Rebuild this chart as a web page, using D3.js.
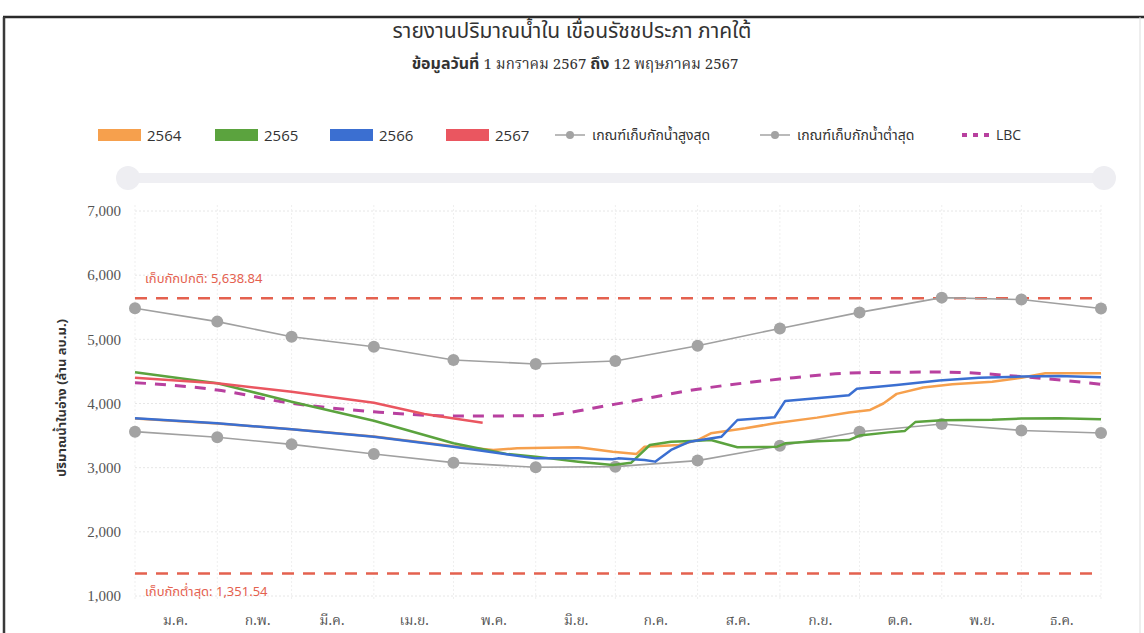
<!DOCTYPE html>
<html>
<head>
<meta charset="utf-8">
<script src="https://cdn.jsdelivr.net/npm/d3@7"></script>
<style>
  body { margin: 0; background: #fff; }
  svg { display: block; }
  .thai { font-family: "Noto Sans Thai", "Noto Sans Thai Looped", "Noto Sans", sans-serif; }
  .thai-serif { font-family: "Noto Serif Thai", "Norasi", "Kinnari", "Laksaman", "Noto Sans Thai Looped", serif; }
</style>
</head>
<body>
<script>
// month labels along the bottom (buddhist calendar abbreviations)
var monthLabels = ["ม.ค.", "ก.พ.", "มี.ค.", "เม.ย.", "พ.ค.", "มิ.ย.", "ก.ค.", "ส.ค.", "ก.ย.", "ต.ค.", "พ.ย.", "ธ.ค."];
var yTicks = [1000, 2000, 3000, 4000, 5000, 6000, 7000];

// rule curves, read at the 1st of every month (+ 31 Dec)
var ruleDates = ["01-01", "02-01", "03-01", "04-01", "05-01", "06-01", "07-01", "08-01", "09-01", "10-01", "11-01", "12-01", "12-31"];
var ruleMax = [5484, 5276, 5041, 4884, 4678, 4616, 4662, 4900, 5170, 5420, 5650, 5620, 5480];
var ruleMin = [3561, 3473, 3363, 3214, 3078, 3006, 3016, 3110, 3340, 3560, 3680, 3580, 3540];
var lbcVals = [4325, 4210, 4003, 3872, 3805, 3810, 3990, 4222, 4380, 4480, 4490, 4420, 4300];

// storage per year (ล้าน ลบ.ม.)
var dates2564 = ["01-01", "02-01", "03-01", "04-01", "05-01", "05-16", "05-25", "06-17", "06-30", "07-09", "07-12", "07-25", "08-01", "08-06", "08-19", "08-30", "09-15", "09-27", "10-05", "10-10", "10-15", "10-25", "11-05", "11-20", "12-01", "12-10", "12-31"];
var vals2564 = [3765, 3690, 3600, 3485, 3335, 3276, 3302, 3317, 3249, 3214, 3327, 3353, 3431, 3535, 3613, 3691, 3780, 3860, 3900, 4000, 4150, 4250, 4300, 4340, 4400, 4470, 4470];

var dates2565 = ["01-01", "02-01", "03-01", "04-01", "05-01", "05-21", "06-01", "06-17", "06-30", "07-07", "07-14", "07-22", "08-01", "08-06", "08-16", "08-31", "09-03", "09-15", "09-27", "10-01", "10-12", "10-18", "10-22", "11-01", "11-20", "12-01", "12-15", "12-31"];
var vals2565 = [4486, 4315, 4028, 3731, 3380, 3214, 3172, 3094, 3042, 3078, 3353, 3405, 3420, 3431, 3317, 3327, 3380, 3410, 3430, 3500, 3550, 3570, 3710, 3740, 3745, 3765, 3770, 3755];

var dates2566 = ["01-01", "02-01", "03-01", "04-01", "05-01", "06-01", "06-17", "06-30", "07-02", "07-12", "07-16", "07-22", "07-29", "08-10", "08-16", "08-30", "09-03", "09-20", "09-27", "09-30", "10-15", "10-31", "11-15", "12-01", "12-15", "12-31"];
var vals2566 = [3770, 3692, 3598, 3483, 3327, 3145, 3145, 3130, 3145, 3119, 3094, 3276, 3405, 3483, 3743, 3785, 4040, 4100, 4130, 4230, 4290, 4360, 4400, 4420, 4430, 4410];

var dates2567 = ["01-01", "02-01", "03-01", "03-15", "04-01", "04-20", "05-12"];
var vals2567 = [4403, 4315, 4184, 4106, 4012, 3837, 3701];

var normalLevel = 5638.84;
var minLevel = 1351.54;

var W = 1144, H = 633;
var margin = {left: 135, right: 43, top: 211, bottom: 37};

var svg = d3.select("body").append("svg")
    .attr("width", W)
    .attr("height", H);

// scanned page frame
svg.append("line").attr("x1", 3).attr("x2", W).attr("y1", 17).attr("y2", 17)
    .attr("stroke", "#2a2a2a").attr("stroke-width", 2.5);
svg.append("line").attr("x1", 4).attr("x2", 4).attr("y1", 17).attr("y2", H)
    .attr("stroke", "#3a3a3a").attr("stroke-width", 2.5);
svg.append("line").attr("x1", 1140).attr("x2", 1140).attr("y1", 17).attr("y2", H)
    .attr("stroke", "#dddddd").attr("stroke-width", 1);

// titles
svg.append("text").attr("class", "thai")
    .attr("x", 572).attr("y", 38)
    .attr("text-anchor", "middle")
    .style("font-size", "21px").style("fill", "#333")
    .text("รายงานปริมาณน้ำใน เขื่อนรัชชประภา ภาคใต้");

var sub = svg.append("text").attr("class", "thai")
    .attr("x", 575).attr("y", 69)
    .attr("text-anchor", "middle")
    .style("font-size", "16px").style("fill", "#333");
sub.append("tspan").style("font-weight", "bold").text("ข้อมูลวันที่ ");
sub.append("tspan").attr("class", "thai-serif").style("font-size", "15px").text("1 มกราคม 2567 ");
sub.append("tspan").style("font-weight", "bold").text("ถึง ");
sub.append("tspan").attr("class", "thai-serif").style("font-size", "15px").text("12 พฤษภาคม 2567");

// legend
var legendItems = [
  {label: "2564", type: "rect", color: "#f6a04d", x: 98},
  {label: "2565", type: "rect", color: "#5ba33e", x: 215},
  {label: "2566", type: "rect", color: "#3b6fd1", x: 330},
  {label: "2567", type: "rect", color: "#ea5660", x: 446},
  {label: "เกณฑ์เก็บกักน้ำสูงสุด", type: "marker", color: "#a3a3a3", x: 555},
  {label: "เกณฑ์เก็บกักน้ำต่ำสุด", type: "marker", color: "#a3a3a3", x: 760},
  {label: "LBC", type: "dash", color: "#b8409f", x: 962}
];
var leg = svg.append("g").selectAll("g").data(legendItems).join("g")
    .attr("transform", function(d) { return "translate(" + d.x + ",135)"; });
leg.each(function(d) {
  var g = d3.select(this);
  if (d.type == "rect") {
    g.append("rect").attr("x", 0).attr("y", -6).attr("width", 43).attr("height", 12)
        .attr("fill", d.color);
    g.append("text").attr("x", 49).attr("y", 6)
        .style("font-family", "'Open Sans', sans-serif").style("font-size", "15px").style("fill", "#333")
        .text(d.label);
  } else if (d.type == "marker") {
    g.append("line").attr("x1", 0).attr("x2", 30).attr("y1", 0).attr("y2", 0)
        .attr("stroke", d.color).attr("stroke-width", 1.5);
    g.append("circle").attr("cx", 15).attr("cy", 0).attr("r", 4).attr("fill", d.color);
    g.append("text").attr("class", "thai").attr("x", 37).attr("y", 5)
        .style("font-size", "14px").style("fill", "#333")
        .text(d.label);
  } else {
    g.append("line").attr("x1", 0).attr("x2", 29).attr("y1", 0).attr("y2", 0)
        .attr("stroke", d.color).attr("stroke-width", 4).attr("stroke-dasharray", "5,6");
    g.append("text").attr("x", 34).attr("y", 5)
        .style("font-family", "'Open Sans', sans-serif").style("font-size", "14px").style("fill", "#333")
        .text(d.label);
  }
});

// range slider (navigator)
svg.append("rect").attr("x", 128).attr("y", 173).attr("width", 975).attr("height", 10)
    .attr("fill", "#efeff3");
svg.append("circle").attr("cx", 128).attr("cy", 178).attr("r", 12).attr("fill", "#eeeef2");
svg.append("circle").attr("cx", 1104).attr("cy", 178).attr("r", 12).attr("fill", "#eeeef2");

// scales
var parseDay = d3.timeParse("%Y-%m-%d");
function toDate(md) { return parseDay("2023-" + md); }

var x = d3.scaleTime()
    .domain([toDate("01-01"), toDate("12-31")])
    .range([margin.left, W - margin.right]);
var y = d3.scaleLinear()
    .domain([1000, 7000])
    .range([596, 211]);

// grid
var monthStarts = d3.timeMonths(toDate("01-01"), toDate("12-31"));
monthStarts.push(toDate("12-31"));
svg.append("g").selectAll("line").data(yTicks).join("line")
    .attr("x1", margin.left).attr("x2", W - margin.right)
    .attr("y1", function(d) { return y(d); }).attr("y2", function(d) { return y(d); })
    .attr("stroke", "#e6e6e6").attr("stroke-dasharray", "2,2");
svg.append("g").selectAll("line").data(monthStarts).join("line")
    .attr("x1", function(d) { return x(d); }).attr("x2", function(d) { return x(d); })
    .attr("y1", 205).attr("y2", 600)
    .attr("stroke", "#efefef").attr("stroke-dasharray", "2,2");

// y axis
var yAxis = svg.append("g")
    .attr("transform", "translate(121,0)")
    .call(d3.axisLeft(y).tickValues(yTicks).tickSize(0).tickFormat(d3.format(",")));
yAxis.select(".domain").remove();
yAxis.selectAll("text")
    .style("font-family", "'Liberation Serif', 'DejaVu Serif', serif")
    .style("font-size", "15px").style("fill", "#555").attr("x", 0);

svg.append("text").attr("class", "thai")
    .attr("transform", "translate(66,398) rotate(-90)")
    .attr("text-anchor", "middle")
    .style("font-size", "13px").style("font-weight", "bold").style("fill", "#333")
    .text("ปริมาณน้ำในอ่าง (ล้าน ลบ.ม.)");

// x axis: month names centered in each month
var midMonths = monthLabels.map(function(m, i) { return d3.timeDay.offset(new Date(2023, i, 1), 15); });
var xAxis = svg.append("g")
    .attr("transform", "translate(0,612)")
    .call(d3.axisBottom(x).tickValues(midMonths).tickSize(0)
      .tickFormat(function(d, i) { return monthLabels[i]; }));
xAxis.select(".domain").remove();
xAxis.selectAll("text").attr("class", "thai-serif")
    .style("font-size", "14px").style("fill", "#555");

// reference levels
var refs = [
  {v: normalLevel, label: "เก็บกักปกติ: 5,638.84", dy: -19},
  {v: minLevel, label: "เก็บกักต่ำสุด: 1,351.54", dy: 19}
];
svg.append("g").selectAll("line").data(refs).join("line")
    .attr("x1", margin.left).attr("x2", W - margin.right)
    .attr("y1", function(d) { return y(d.v); }).attr("y2", function(d) { return y(d.v); })
    .attr("stroke", "#e4614f").attr("stroke-width", 2.5).attr("stroke-dasharray", "12,9");
svg.append("g").selectAll("text").data(refs).join("text").attr("class", "thai")
    .attr("x", 145).attr("y", function(d) { return y(d.v) + d.dy + 4; })
    .style("font-size", "13px").style("fill", "#e4614f")
    .text(function(d) { return d.label; });

var line = d3.line()
    .x(function(d) { return x(d.date); })
    .y(function(d) { return y(d.value); });

function zipSeries(ds, vs) {
  return ds.map(function(d, i) { return {date: toDate(d), value: vs[i]}; });
}

// rule curves
[ruleMin, ruleMax].forEach(function(vals) {
  var data = zipSeries(ruleDates, vals);
  svg.append("path").datum(data)
    .attr("fill", "none").attr("stroke", "#a0a0a0").attr("stroke-width", 1.6)
    .attr("d", line);
  svg.append("g").selectAll("circle").data(data).join("circle")
    .attr("cx", function(d) { return x(d.date); })
    .attr("cy", function(d) { return y(d.value); })
    .attr("r", 6).attr("fill", "#a3a3a3");
});

// LBC
svg.append("path").datum(zipSeries(ruleDates, lbcVals))
    .attr("fill", "none").attr("stroke", "#b8409f").attr("stroke-width", 3)
    .attr("stroke-dasharray", "11,9")
    .attr("d", line.curve(d3.curveMonotoneX));
line.curve(d3.curveLinear);

// yearly storage
var years = [
  {ds: dates2564, vs: vals2564, color: "#f6a04d"},
  {ds: dates2565, vs: vals2565, color: "#5ba33e"},
  {ds: dates2566, vs: vals2566, color: "#3b6fd1"},
  {ds: dates2567, vs: vals2567, color: "#ea5660"}
];
years.forEach(function(s) {
  svg.append("path").datum(zipSeries(s.ds, s.vs))
    .attr("fill", "none").attr("stroke", s.color).attr("stroke-width", 2.5)
    .attr("stroke-linejoin", "round")
    .attr("d", line);
});
</script>
</body>
</html>
